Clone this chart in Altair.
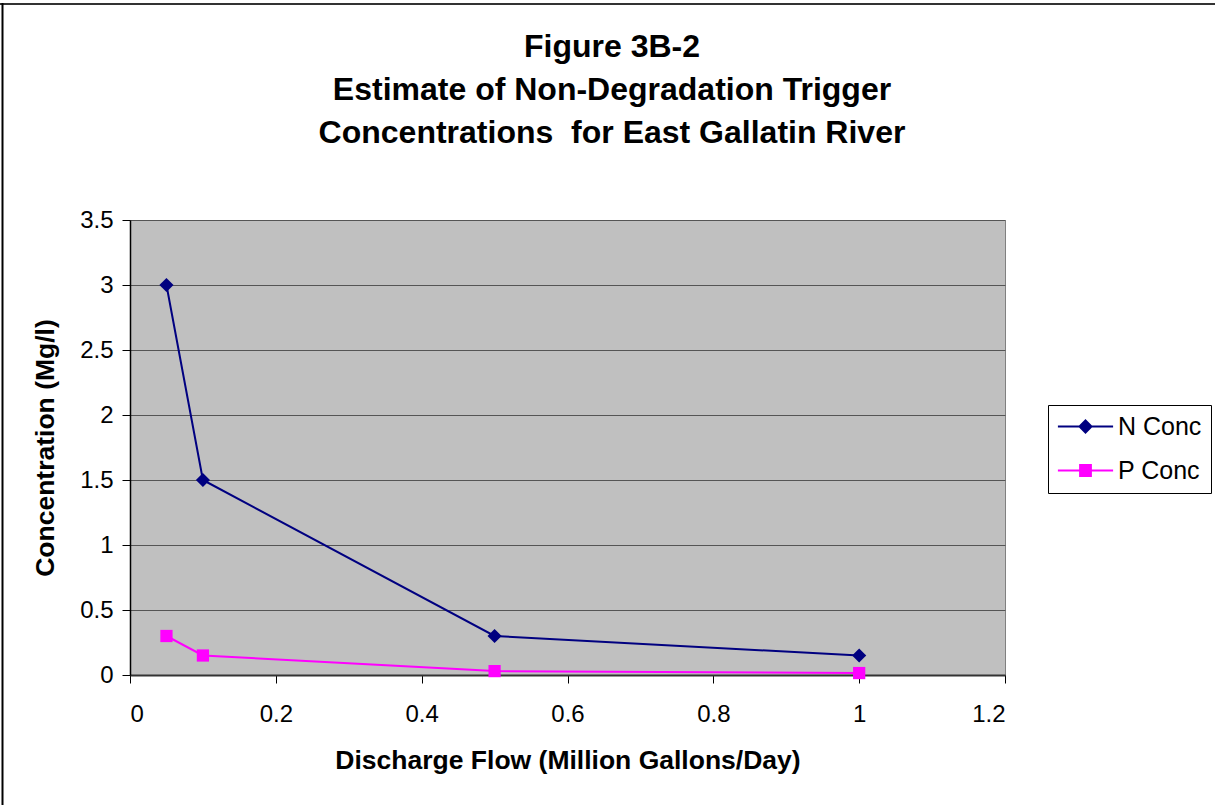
import altair as alt
import pandas as pd

# ---- data ----
flow = [0.05, 0.1, 0.5, 1.0]
n_conc = [3.0, 1.5, 0.3, 0.15]
p_conc = [0.3, 0.15, 0.03, 0.015]
series_names = ["N Conc", "P Conc"]
series_colors = ["#000080", "#FF00FF"]
x_ticks = [0, 0.2, 0.4, 0.6, 0.8, 1.0, 1.2]
y_ticks = [0, 0.5, 1, 1.5, 2, 2.5, 3, 3.5]
title_lines = [
    "Figure 3B-2",
    "Estimate of Non-Degradation Trigger",
    "Concentrations\u00a0 for East Gallatin River",
]
x_title = "Discharge Flow (Million Gallons/Day)"
y_title = "Concentration (Mg/l)"

rows = []
for f, v in zip(flow, n_conc):
    rows.append({"flow": f, "conc": v, "series": series_names[0]})
for f, v in zip(flow, p_conc):
    rows.append({"flow": f, "conc": v, "series": series_names[1]})
df = pd.DataFrame(rows)

FONT = "Liberation Sans"
W, H = 875, 455
PAD_L, PAD_T = 130, 220
PAD_R, PAD_B = 1215 - PAD_L - W, 805 - PAD_T - H

x_enc = alt.X(
    "flow:Q",
    scale=alt.Scale(domain=[0, 1.2], nice=False, zero=False),
    axis=alt.Axis(
        values=x_ticks, format="~g", title=x_title, grid=False,
        labelFontSize=24, labelFont=FONT, labelColor="black", labelPadding=19,
        tickSize=8, tickColor="black", tickWidth=1,
        domainColor="#333333", domainWidth=2,
        titleFontSize=26.5, titleFont=FONT, titleFontWeight="bold", titleColor="black",
        titleY=93, titleBaseline="alphabetic",
    ),
)
y_enc = alt.Y(
    "conc:Q",
    scale=alt.Scale(domain=[0, 3.5], nice=False),
    axis=alt.Axis(
        values=y_ticks, format="~g", title=y_title, grid=True,
        gridColor="#555555", gridWidth=1,
        labelFontSize=24, labelFont=FONT, labelColor="black", labelPadding=9,
        tickSize=8, tickColor="black", tickWidth=1,
        domainColor="black", domainWidth=1.5,
        titleFontSize=26.5, titleFont=FONT, titleFontWeight="bold", titleColor="black",
        titleX=-85, titleBaseline="middle", titleAngle=-90,
    ),
)

# data-driven domain (sorted: N Conc, P Conc) so it is not merged with the legend scales
color_scale = alt.Scale(range=series_colors)

lines = alt.Chart(df).mark_line(strokeWidth=2).encode(
    x=x_enc, y=y_enc,
    color=alt.Color("series:N", scale=color_scale, legend=None),
    detail="series:N",
)

n_points = alt.Chart(df).transform_filter(
    alt.datum.series == series_names[0]
).mark_point(filled=True, opacity=1, shape="diamond", size=200).encode(
    x=x_enc, y=y_enc,
    color=alt.Color("series:N", scale=color_scale, legend=None),
)
p_points = alt.Chart(df).transform_filter(
    alt.datum.series == series_names[1]
).mark_point(filled=True, opacity=1, shape="square", size=150).encode(
    x=x_enc, y=y_enc,
    color=alt.Color("series:N", scale=color_scale, legend=None),
)

# legend: symbol paths = line segment plus marker
legend_paths = [
    "M-4.6,0H4.6M0,-1L1,0L0,1L-1,0Z",
    "M-4.6,0H4.6M-0.9,-0.9H0.9V0.9H-0.9Z",
]
leg = alt.Legend(
    title=None, orient="none", legendX=918, legendY=185,
    fillColor="white", strokeColor="black", padding=9,
    labelFontSize=25, labelFont=FONT, labelColor="black",
    symbolSize=144, symbolStrokeWidth=2, symbolOffset=16, labelOffset=20,
    rowPadding=18,
)
legend_layer = alt.Chart(df).transform_filter("datum.flow < 0").mark_point(filled=True, opacity=1).encode(
    x=x_enc, y=y_enc,
    fill=alt.Fill("series:N", scale=alt.Scale(domain=series_names, range=series_colors), legend=leg),
    stroke=alt.Stroke("series:N", scale=alt.Scale(domain=series_names, range=series_colors), legend=leg),
    shape=alt.Shape("series:N", scale=alt.Scale(domain=series_names, range=legend_paths), legend=leg),
)

frame_df = pd.DataFrame({"k": [0]})
frame_top = alt.Chart(frame_df).mark_rule(color="#333333", strokeWidth=2).encode(
    x=alt.value(-PAD_L), x2=alt.value(1215 - PAD_L), y=alt.value(4 - PAD_T)
)
frame_left = alt.Chart(frame_df).mark_rule(color="black", strokeWidth=2).encode(
    x=alt.value(2.5 - PAD_L), y=alt.value(3 - PAD_T), y2=alt.value(805 - PAD_T)
)

chart = (
    alt.layer(lines, n_points, p_points, legend_layer, frame_top, frame_left)
    .properties(
        width=W, height=H,
        title=alt.TitleParams(
            text=title_lines, fontSize=32, font=FONT, fontWeight="bold", color="black",
            anchor="middle", frame="group", dx=44.5, offset=-148, lineHeight=43,
        ),
        autosize=alt.AutoSizeParams(type="none"),
        padding={"left": PAD_L, "top": PAD_T, "right": PAD_R, "bottom": PAD_B},
        background="white",
    )
    .configure_view(fill="#C0C0C0", stroke="#808080", strokeWidth=1)
)

chart.save("out.html", embed_options={"renderer": "svg", "actions": False})
